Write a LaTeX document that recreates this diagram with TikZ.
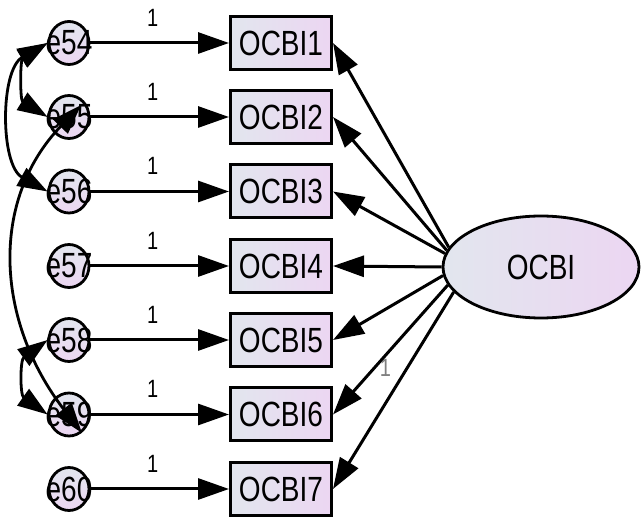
\documentclass[tikz,border=0pt]{standalone}
\usepackage{fontspec}
\usepackage{tikz}
\usetikzlibrary{arrows.meta,shapes.geometric}
\newfontfamily\amosfont{Liberation Sans}[FakeStretch=0.8]
\definecolor{fillL}{RGB}{226,230,238}
\definecolor{fillR}{RGB}{236,214,242}

\begin{document}
\begin{tikzpicture}[x=1pt,y=-1pt,
  every node/.style={font=\amosfont\fontsize{35}{36}\selectfont, inner sep=0pt},
  item/.style={draw, line width=3pt, minimum width=101pt, minimum height=53pt, left color=fillL, right color=fillR},
  errc/.style={ellipse, draw, line width=2.8pt, inner xsep=-10pt, minimum width=40pt, minimum height=43pt, top color=fillL, bottom color=fillR},
  fac/.style={ellipse, draw, line width=2.8pt, minimum width=196pt, minimum height=102pt, left color=fillL, right color=fillR},
  reg/.style={line width=3pt, -{Triangle[length=31pt,width=21pt]}},
  covar/.style={line width=2.8pt, {Triangle[length=30pt,width=20pt]}-{Triangle[length=30pt,width=20pt]}},
  one/.style={font=\amosfont\fontsize{25}{26}\selectfont}]
    \useasboundingbox (0,0) rectangle (643,518);

    \node[errc] (e54) at (69,43) {e54};
    \node[errc] (e55) at (69,117) {e55};
    \node[errc] (e56) at (69,191.5) {e56};
    \node[errc] (e57) at (69,266) {e57};
    \node[errc] (e58) at (69,340) {e58};
    \node[errc] (e59) at (69,414.5) {e59};
    \node[errc] (e60) at (69,489) {e60};

    \node[item] (OCBI1) at (281,43) {OCBI1};
    \node[item] (OCBI2) at (281,117) {OCBI2};
    \node[item] (OCBI3) at (281,191.5) {OCBI3};
    \node[item] (OCBI4) at (281,266) {OCBI4};
    \node[item] (OCBI5) at (281,340) {OCBI5};
    \node[item] (OCBI6) at (281,414.5) {OCBI6};
    \node[item] (OCBI7) at (281,489) {OCBI7};

    \node[fac] (OCBI) at (541,267) {OCBI};

    \draw[reg] (e54) -- node[pos=0.45, above=15pt, one] {1} (OCBI1);
    \draw[reg] (e55) -- node[pos=0.45, above=15pt, one] {1} (OCBI2);
    \draw[reg] (e56) -- node[pos=0.45, above=15pt, one] {1} (OCBI3);
    \draw[reg] (e57) -- node[pos=0.45, above=15pt, one] {1} (OCBI4);
    \draw[reg] (e58) -- node[pos=0.45, above=15pt, one] {1} (OCBI5);
    \draw[reg] (e59) -- node[pos=0.45, above=15pt, one] {1} (OCBI6);
    \draw[reg] (e60) -- node[pos=0.45, above=15pt, one] {1} (OCBI7);

    \draw[reg] (OCBI.168) -- (OCBI1.east);
    \draw[reg] (OCBI.170) -- (OCBI2.east);
    \draw[reg] (OCBI.172) -- (OCBI3.east);
    \draw[reg] (OCBI.west) -- (OCBI4.east);
    \draw[reg] (OCBI.185) -- (OCBI5.east);
    \draw[reg] (OCBI.191) -- node[pos=0.64, right=4pt, one, text=gray] {1} (OCBI6.east);
    \draw[reg] (OCBI.196) -- (OCBI7.east);

    % covariances
    \draw[covar] (e54.west) .. controls (20,60) and (20,100) .. (e55.west);
    \draw[covar] (e54.west) .. controls (0,70) and (0,165) .. (e56.west);
    \draw[covar, shorten <=5pt] (e55.45) .. controls (-10,200) and (-5,320) .. (e59.-55);
    \draw[covar] (e58.west) .. controls (20,360) and (20,395) .. (e59.west);
\end{tikzpicture}
\end{document}
